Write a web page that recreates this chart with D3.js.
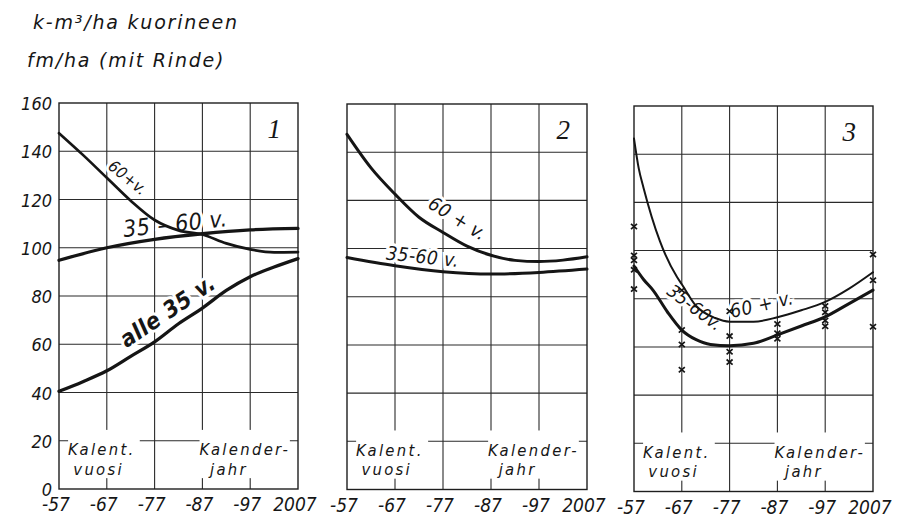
<!DOCTYPE html>
<html><head><meta charset="utf-8">
<script src="https://cdn.jsdelivr.net/npm/d3@7"></script>
<style>
html,body{margin:0;padding:0;background:#fff;}
svg{display:block;}
text{font-family:"DejaVu Sans Condensed","DejaVu Sans",sans-serif;font-style:italic;fill:#161616;}
</style></head><body><svg id="c" width="909" height="519"></svg>
<script>
// ---------- data ----------
const years = [1957, 1967, 1977, 1987, 1997, 2007];
const yearLabels = ["-57", "-67", "-77", "-87", "-97", "2007"];
const yTicks = [0, 20, 40, 60, 80, 100, 120, 140, 160];
const panelNumbers = ["1", "2", "3"];
const titleLines = ["k-m³/ha kuorineen", "fm/ha (mit Rinde)"];
const noteLeft = ["Kalent.", "vuosi"];
const noteRight = ["Kalender-", "jahr"];

// panel 1
const p1Over60 = [[1957,147.5],[1962,138.5],[1967,129],[1972,119.5],[1977,111.5],[1982,107.2],[1987,105.5],[1992,101.8],[1997,99.3],[2002,98.1],[2007,98.2]];
const p1Mid = [[1957,94.8],[1967,100],[1977,103.5],[1987,105.8],[1997,107.4],[2007,108]];
const p1Under35 = [[1957,40.5],[1962,44.5],[1967,49],[1972,55],[1977,61],[1982,68.5],[1987,75],[1992,82.3],[1997,88],[2002,92],[2007,95.5]];
// panel 2
const p2Over60 = [[1957,147.4],[1962,133.5],[1967,122.6],[1972,113],[1977,106.7],[1982,101],[1987,97.2],[1992,95.1],[1997,94.6],[2002,95.2],[2007,96.6]];
const p2Mid = [[1957,96.3],[1967,92.9],[1977,90.4],[1987,89.4],[1997,90.1],[2007,91.5]];
// panel 3
const p3Over60 = [[1957,146.5],[1958,134],[1959,126],[1962.4,104],[1966,89],[1967,86],[1970,77],[1974,72],[1977,70.5],[1982,70.5],[1987,72.3],[1992,75.2],[1997,78.7],[2002,84.2],[2007,91]];
const p3Mid = [[1957,93.6],[1959,88],[1961,83.5],[1964,74.5],[1967,67],[1970,63],[1973,61],[1977,60.5],[1982,61.5],[1987,65],[1992,68.7],[1997,72.5],[2002,78],[2007,83.6]];
const p3Obs = [[1957,110],[1957,98],[1957,96],[1957,92],[1957,84],
  [1967,83.5],[1967,67],[1967,61],[1967,50.5],
  [1977,74.8],[1977,64.5],[1977,58],[1977,53.7],
  [1987,69.5],[1987,65.7],[1987,63.4],
  [1997,77],[1997,74.4],[1997,71],[1997,68.6],
  [2007,98.4],[2007,87.7],[2007,68.4]];

// ---------- layout ----------
const panels = [
  {left:59, right:298, top:103, bottom:489,
   series:[{d:p1Over60,w:2.7},{d:p1Mid,w:3.3},{d:p1Under35,w:3.3}], obs:[],
   labels:[{t:"60+v.",x:1971.4,y:129,a:39,s:16,wt:400},
           {t:"35 – 60 v.",x:1981.3,y:110,a:-6,s:23,wt:400},
           {t:"alle 35 v.",x:1979.7,y:73.8,a:-34,s:23,wt:700}]},
  {left:347, right:587, top:104, bottom:489.5,
   series:[{d:p2Over60,w:3},{d:p2Mid,w:3}], obs:[],
   labels:[{t:"60 + v.",x:1980.1,y:112.6,a:32,s:19,wt:400},
           {t:"35-60 v.",x:1972.8,y:96.8,a:6,s:19,wt:400}]},
  {left:634, right:873, top:106, bottom:491.5,
   series:[{d:p3Over60,w:2},{d:p3Mid,w:3}], obs:p3Obs,
   labels:[{t:"60 + v.",x:1983.7,y:77.8,a:-13,s:19,wt:400},
           {t:"35-60v.",x:1969.8,y:76.4,a:37,s:18,wt:400}]}
];

const svg = d3.select("#c");
svg.append("rect").attr("width",909).attr("height",519).attr("fill","#fff");

// title
svg.selectAll("text.title").data(titleLines).join("text")
  .attr("class","title").attr("x",(d,i)=> i? 27 : 33).attr("y",(d,i)=> i? 67 : 29)
  .style("font-family","'DejaVu Sans',sans-serif")
  .attr("font-size",19).attr("letter-spacing",1.8).text(d=>d);

panels.forEach((p, pi) => {
  const x = d3.scaleLinear().domain([1957,2007]).range([p.left,p.right]);
  const y = d3.scaleLinear().domain([0,160]).range([p.bottom,p.top]);
  const g = svg.append("g");
  // grid
  g.selectAll("line.v").data(years.slice(1,-1)).join("line")
    .attr("x1",d=>x(d)).attr("x2",d=>x(d)).attr("y1",y(0)).attr("y2",y(160))
    .attr("stroke","#2a2a2a").attr("stroke-width",1.1);
  g.selectAll("line.h").data(yTicks.slice(1,-1)).join("line")
    .attr("x1",x(1957)).attr("x2",x(2007)).attr("y1",d=>y(d)).attr("y2",d=>y(d))
    .attr("stroke","#2a2a2a").attr("stroke-width",1.1);
  // blank boxes for the notes
  [[1958.9,1973.9],[1986.4,2005.3]].forEach(b=>{
    g.append("rect").attr("x",x(b[0])).attr("width",x(b[1])-x(b[0]))
      .attr("y",y(24.5)).attr("height",y(4.5)-y(24.5)).attr("fill","#fff");
  });
  // frame
  g.append("rect").attr("x",x(1957)).attr("y",y(160)).attr("width",x(2007)-x(1957))
    .attr("height",y(0)-y(160)).attr("fill","none").attr("stroke","#1e1e1e").attr("stroke-width",1.4);
  // notes
  const note = (t,xx,yy)=> g.append("text").attr("x",x(xx)).attr("y",y(yy))
      .attr("font-size",16.5).attr("letter-spacing",2.3).text(t);
  note(noteLeft[0],1958.9,14); note(noteLeft[1],1960,5.9);
  note(noteRight[0],1986.4,14); note(noteRight[1],1988.6,5.9);
  // label halos
  const lab = (sel)=> sel.attr("text-anchor","middle").attr("dominant-baseline","central")
      .attr("font-size",d=>d.s).attr("font-weight",d=>d.wt).attr("letter-spacing",0.5)
      .attr("transform",d=>`translate(${x(d.x)},${y(d.y)}) rotate(${d.a})`).text(d=>d.t);
  g.selectAll("text.halo").data(p.labels).join("text").attr("class","halo")
    .attr("stroke","#fff").attr("stroke-width",6).style("fill","#fff").call(lab);
  // curves
  const line = d3.line().x(d=>x(d[0])).y(d=>y(d[1])).curve(d3.curveMonotoneX);
  g.selectAll("path.s").data(p.series).join("path").attr("class","s")
    .attr("d",d=>line(d.d)).attr("fill","none").attr("stroke","#151515")
    .attr("stroke-width",d=>d.w).attr("stroke-linecap","round");
  // observations
  g.selectAll("path.o").data(p.obs).join("path").attr("class","o")
    .attr("transform",d=>`translate(${x(d[0])},${y(d[1])})`)
    .attr("d","M-3,-2.6L3,2.6M3,-2.6L-3,2.6").attr("stroke","#151515").attr("stroke-width",1.7);
  // labels
  g.selectAll("text.lab").data(p.labels).join("text").attr("class","lab").call(lab);
  // panel number
  g.append("text").attr("x",x(2007)-17).attr("y",y(160)+35).attr("text-anchor","end")
    .style("font-family","'Liberation Serif',serif")
    .attr("font-size",27).text(panelNumbers[pi]);
  // x tick labels
  g.selectAll("text.xt").data(years).join("text").attr("class","xt")
    .attr("x",d=>x(d)-3).attr("y",y(0)+22).attr("text-anchor","middle")
    .attr("font-size",19).text((d,i)=>yearLabels[i]);
  if (pi===0) {
    g.selectAll("text.yt").data(yTicks).join("text").attr("class","yt")
      .attr("x",x(1957)-7).attr("y",d=>y(d)+0.5).attr("text-anchor","end")
      .attr("dominant-baseline","central").attr("font-size",18).text(d=>d);
  }
});
</script></body></html>
